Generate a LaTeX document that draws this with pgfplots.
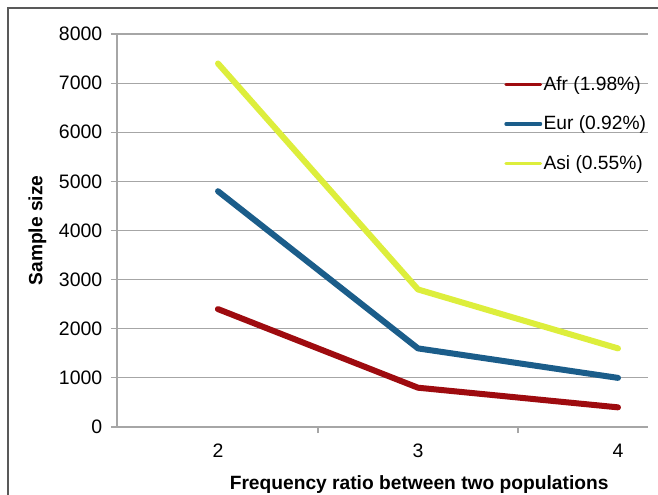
\documentclass[border=0pt]{standalone}
\usepackage{pgfplots}
\pgfplotsset{compat=1.18}
\usepackage{fontspec}
\setmainfont{Liberation Sans}
\definecolor{afr}{HTML}{9E0B0F}
\definecolor{eur}{HTML}{1B5D8A}
\definecolor{asi}{HTML}{DDEE3C}
\definecolor{gridc}{HTML}{A6A6A6}
\begin{document}
\begin{tikzpicture}
\path[use as bounding box] (0,0) rectangle (493.5pt,370.5pt);
\clip (0,0) rectangle (493.5pt,370.5pt);
\fill[white] (0,0) rectangle (493.5pt,370.5pt);
\draw[black!65, line width=1.2pt] (6pt,-10pt) -- (6pt,364.5pt) -- (520pt,364.5pt);
\begin{axis}[
  at={(87.75pt,50.25pt)}, anchor=south west,
  scale only axis, width=398.25pt, height=294.75pt,
  xmin=1.495, xmax=4.15, ymin=0, ymax=8000,
  axis lines*=left,
  axis line style={gridc, line width=0.8pt},
  ytick={0,1000,...,8000},
  ymajorgrids, grid style={gridc, line width=0.8pt},
  xtick={2.5,3.5}, xticklabels={},
  extra x ticks={2,3,4},
  extra x tick labels={2,3,4},
  extra x tick style={major tick length=0pt, xticklabel style={yshift=-9pt}},
  tick align=outside, major tick length=4.5pt,
  tick style={gridc, line width=0.8pt},
  scaled y ticks=false,
  /pgf/number format/assume math mode=true,
  yticklabel={\pgfmathprintnumber[fixed,1000 sep={}]{\tick}},
  ticklabel style={font=\fontsize{14.6}{17}\selectfont, text=black},
  yticklabel style={xshift=-3pt},
  xlabel={\bfseries Frequency ratio between two populations},
  xlabel style={at={(axis description cs:0.569,-0.147)}, anchor=center, font=\fontsize{14.4}{17}\selectfont},
  ylabel={\bfseries Sample size},
  ylabel style={at={(axis description cs:-0.1500,0.5)}, anchor=center, font=\fontsize{14.4}{17}\selectfont},
  legend style={at={(rel axis cs:0.729,0.892)}, anchor=north west, draw=none, fill=none,
    font=\fontsize{14.4}{17}\selectfont, row sep=17.5pt, inner sep=0pt,
    nodes={inner xsep=1pt, inner ysep=0pt}},
  legend cell align=left,
  legend image code/.code={\draw[#1, line width=2.4pt] (0pt,0pt) -- (26pt,0pt);},
  every axis plot/.append style={line width=4.5pt, line join=round, line cap=round},
]
\addplot[afr] coordinates {(2,2400) (3,800) (4,400)};
\addlegendentry{Afr (1.98\%)}
\addplot[eur] coordinates {(2,4800) (3,1600) (4,1000)};
\addlegendentry{Eur (0.92\%)}
\addplot[asi] coordinates {(2,7400) (3,2800) (4,1600)};
\addlegendentry{Asi (0.55\%)}
\end{axis}
\end{tikzpicture}
\end{document}
